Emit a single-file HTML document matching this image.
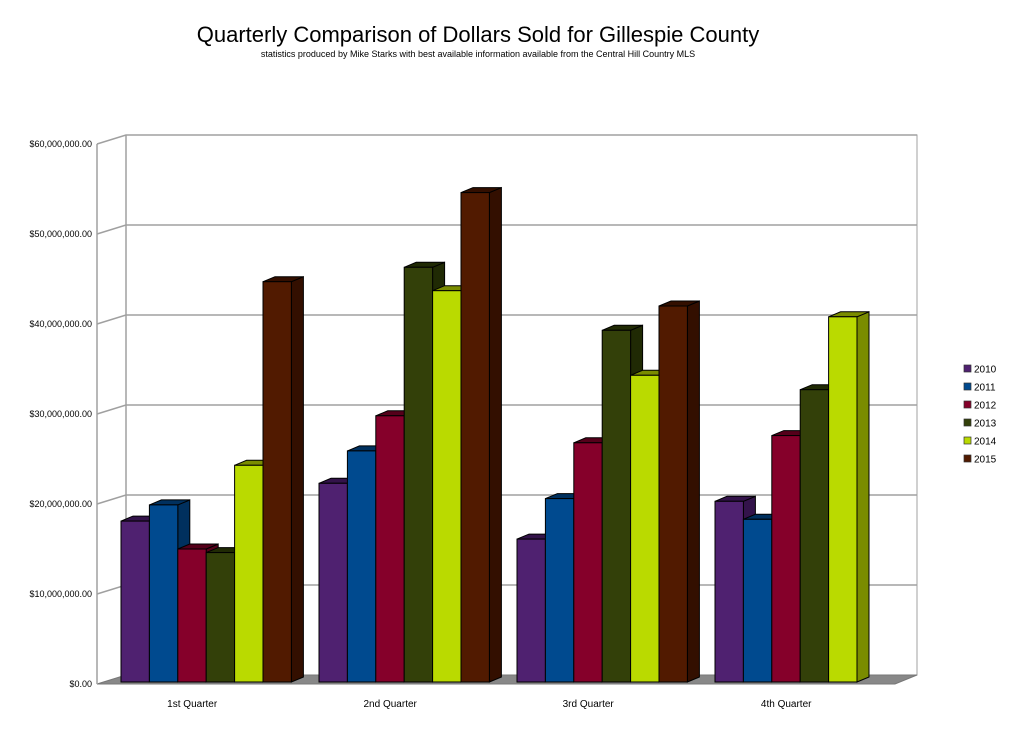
<!DOCTYPE html>
<html><head><meta charset="utf-8"><style>
body{margin:0;background:#fff;}
svg{display:block;font-family:"Liberation Sans",sans-serif;}
</style></head><body>
<svg id="chart" width="1013" height="732" viewBox="0 0 1013 732">
<text x="478" y="42" text-anchor="middle" font-size="22" fill="#000">Quarterly Comparison of Dollars Sold  for Gillespie County</text>
<text x="478" y="57" text-anchor="middle" font-size="9" fill="#000">statistics produced by Mike Starks with best available information available from the Central Hill Country MLS</text>
<g id="grid"></g>
<g id="bars"></g>
<g id="legend"></g>
</svg>
<script>
const categories = ["1st Quarter","2nd Quarter","3rd Quarter","4th Quarter"];
const years = ["2010","2011","2012","2013","2014","2015"];
const v2010 = [18.1,22.3,16.1,20.3];
const v2011 = [19.9,25.9,20.6,18.3];
const v2012 = [15.0,29.8,26.8,27.6];
const v2013 = [14.6,46.3,39.3,32.7];
const v2014 = [24.3,43.7,34.3,40.8];
const v2015 = [44.7,54.6,42.0,0];
const tickLabels = ["$0.00","$10,000,000.00","$20,000,000.00","$30,000,000.00","$40,000,000.00","$50,000,000.00","$60,000,000.00"];
const tickValues = [0,10,20,30,40,50,60];
const colors = ["#4f2170","#004a8f","#85002a","#334009","#bada00","#511a00"];
const sides = ["#33134a","#00305e","#55001a","#202a04","#7a8c00","#330f00"];
const series = [v2010,v2011,v2012,v2013,v2014,v2015];
const NS="http://www.w3.org/2000/svg";
const y0=684, pxPer=9; // front scale: pixels per $1M
const yScale = v => y0 - v*pxPer;
const DX=29, DY=-9;
const groupX = i => 121 + i*198;
const barW = 28.4;
function mk(tag, attrs, parent){const e=document.createElementNS(NS,tag);for(const k in attrs)e.setAttribute(k,attrs[k]);parent.appendChild(e);return e;}
const grid=document.getElementById('grid');
// back wall
const wall=mk('rect',{x:97+DX,y:yScale(60)+DY,width:791,height:60*pxPer,fill:'#fff',stroke:'#a0a0a0','stroke-width':1},grid);


// floor
const floor=mk('polygon',{points:`97,${y0} 895,${y0} ${917},${y0+DY} ${97+DX},${y0+DY}`,fill:'#888',stroke:'#777'},grid);


tickValues.forEach((t,i)=>{
  const y=yScale(t);
  if(t>0){
    const g=mk('polyline',{points:`97,${y} ${97+DX},${y+DY} ${917},${y+DY}`,fill:'none',stroke:'#a0a0a0','stroke-width':1.5},grid);
    
    
  }
  const lb=mk('text',{x:92,y:y+3,'text-anchor':'end','font-size':9,fill:'#000'},grid);
  lb.textContent=tickLabels[i];
  
  
});
const ax=mk('line',{x1:97,y1:yScale(60),x2:97,y2:y0,stroke:'#a0a0a0','stroke-width':1.5},grid);


const ax2=mk('line',{x1:97+DX,y1:yScale(60)+DY,x2:97+DX,y2:y0+DY,stroke:'#a0a0a0','stroke-width':1.5},grid);


const bars=document.getElementById('bars');
const bdx=12, bdy=-5;
categories.forEach((c,ci)=>{
  series.forEach((s,si)=>{
    const v=s[ci]; if(!v) return;
    const x=groupX(ci)+si*barW, y=yScale(v), b=y0-2;
    const g=mk('g',{},bars);
    
    
    mk('polygon',{points:`${x+barW},${y} ${x+barW+bdx},${y+bdy} ${x+barW+bdx},${b+bdy} ${x+barW},${b}`,fill:sides[si],stroke:'#000','stroke-width':1},g);
    mk('polygon',{points:`${x},${y} ${x+bdx},${y+bdy} ${x+barW+bdx},${y+bdy} ${x+barW},${y}`,fill:sides[si],stroke:'#000','stroke-width':1},g);
    mk('rect',{x:x,y:y,width:barW,height:b-y,fill:colors[si],stroke:'#000','stroke-width':1},g);
  });
  const t=mk('text',{x:groupX(ci)+3*barW-14,y:707,'text-anchor':'middle','font-size':10,fill:'#000'},bars);
  t.textContent=c;
  
  
});
const lg=document.getElementById('legend');
years.forEach((yr,i)=>{
  const g=mk('g',{},lg);
  
  
  const yy=369+i*18;
  mk('rect',{x:964,y:yy-4,width:7,height:7,fill:colors[i],stroke:'#333','stroke-width':0.7},g);
  const t=mk('text',{x:974,y:yy+3.5,'font-size':10,fill:'#000'},g);
  t.textContent=yr;
});
</script>
</body></html>
